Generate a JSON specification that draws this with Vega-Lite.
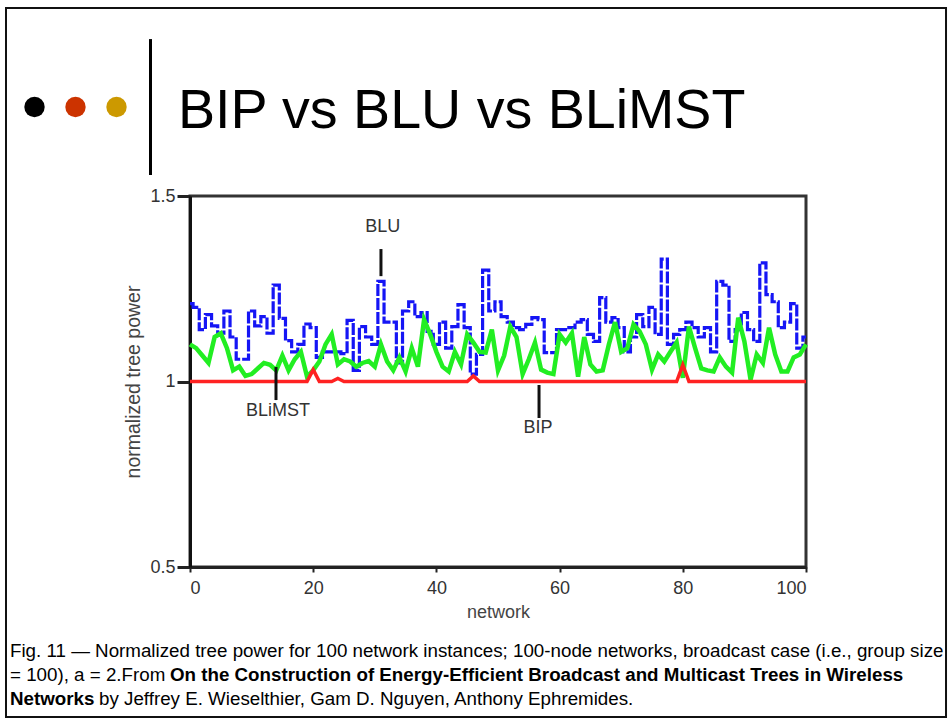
{
"$schema": "https://vega.github.io/schema/vega-lite/v6.json",
"width": 616, "height": 371,
"autosize": {"type": "none"},
"padding": {"left": 190, "top": 196, "right": 146, "bottom": 155},
"background": "white",
"config": {
 "font": "Liberation Sans",
 "view": {"stroke": "#333", "strokeWidth": 3},
 "axisX": {"domainColor": "#222", "domainWidth": 3, "tickColor": "#222", "tickWidth": 2, "tickSize": 5, "labelFontSize": 18, "labelColor": "#333", "labelPadding": 7, "titleFontSize": 18, "titleFontWeight": "normal", "titleColor": "#444", "titlePadding": 6, "grid": false, "labelFont": "Liberation Sans", "titleFont": "Liberation Sans"},
 "axisY": {"domainColor": "#111", "domainWidth": 3, "tickColor": "#222", "tickWidth": 3, "tickSize": 13, "labelFontSize": 18, "labelColor": "#333", "labelPadding": 2, "titleFontSize": 19.5, "titleFontWeight": "normal", "titleColor": "#444", "titlePadding": 6, "grid": false, "labelFont": "Liberation Sans", "titleFont": "Liberation Sans"}
},
"datasets": {
 "series": [
  {"n":0,"BLU":1.21,"BLiMST":1.10,"BIP":1},{"n":1,"BLU":1.20,"BLiMST":1.09,"BIP":1},{"n":2,"BLU":1.14,"BLiMST":1.07,"BIP":1},{"n":3,"BLU":1.18,"BLiMST":1.05,"BIP":1},{"n":4,"BLU":1.15,"BLiMST":1.12,"BIP":1},
  {"n":5,"BLU":1.13,"BLiMST":1.13,"BIP":1},{"n":6,"BLU":1.19,"BLiMST":1.09,"BIP":1},{"n":7,"BLU":1.12,"BLiMST":1.03,"BIP":1},{"n":8,"BLU":1.06,"BLiMST":1.04,"BIP":1},{"n":9,"BLU":1.06,"BLiMST":1.015,"BIP":1},
  {"n":10,"BLU":1.19,"BLiMST":1.02,"BIP":1},{"n":11,"BLU":1.15,"BLiMST":1.035,"BIP":1},{"n":12,"BLU":1.175,"BLiMST":1.05,"BIP":1},{"n":13,"BLU":1.13,"BLiMST":1.045,"BIP":1},{"n":14,"BLU":1.26,"BLiMST":1.03,"BIP":1},
  {"n":15,"BLU":1.17,"BLiMST":1.07,"BIP":1},{"n":16,"BLU":1.11,"BLiMST":1.03,"BIP":1},{"n":17,"BLU":1.08,"BLiMST":1.06,"BIP":1},{"n":18,"BLU":1.10,"BLiMST":1.08,"BIP":1},{"n":19,"BLU":1.155,"BLiMST":1.013,"BIP":1},
  {"n":20,"BLU":1.145,"BLiMST":1.03,"BIP":1.032},{"n":21,"BLU":1.065,"BLiMST":1.054,"BIP":1},{"n":22,"BLU":1.08,"BLiMST":1.10,"BIP":1},{"n":23,"BLU":1.08,"BLiMST":1.127,"BIP":1},{"n":24,"BLU":1.08,"BLiMST":1.046,"BIP":1.008},
  {"n":25,"BLU":1.075,"BLiMST":1.06,"BIP":1},{"n":26,"BLU":1.165,"BLiMST":1.054,"BIP":1},{"n":27,"BLU":1.03,"BLiMST":1.04,"BIP":1},{"n":28,"BLU":1.148,"BLiMST":1.05,"BIP":1},{"n":29,"BLU":1.12,"BLiMST":1.055,"BIP":1},
  {"n":30,"BLU":1.10,"BLiMST":1.04,"BIP":1},{"n":31,"BLU":1.27,"BLiMST":1.10,"BIP":1},{"n":32,"BLU":1.16,"BLiMST":1.054,"BIP":1},{"n":33,"BLU":1.16,"BLiMST":1.03,"BIP":1},{"n":34,"BLU":1.05,"BLiMST":1.065,"BIP":1},
  {"n":35,"BLU":1.19,"BLiMST":1.027,"BIP":1},{"n":36,"BLU":1.215,"BLiMST":1.09,"BIP":1},{"n":37,"BLU":1.175,"BLiMST":1.04,"BIP":1},{"n":38,"BLU":1.186,"BLiMST":1.167,"BIP":1},{"n":39,"BLU":1.135,"BLiMST":1.127,"BIP":1},
  {"n":40,"BLU":1.10,"BLiMST":1.08,"BIP":1},{"n":41,"BLU":1.16,"BLiMST":1.04,"BIP":1},{"n":42,"BLU":1.09,"BLiMST":1.027,"BIP":1},{"n":43,"BLU":1.148,"BLiMST":1.08,"BIP":1},{"n":44,"BLU":1.207,"BLiMST":1.046,"BIP":1},
  {"n":45,"BLU":1.145,"BLiMST":1.127,"BIP":1},{"n":46,"BLU":1.02,"BLiMST":1.105,"BIP":1.015},{"n":47,"BLU":1.073,"BLiMST":1.08,"BIP":1},{"n":48,"BLU":1.30,"BLiMST":1.078,"BIP":1},{"n":49,"BLU":1.19,"BLiMST":1.14,"BIP":1},
  {"n":50,"BLU":1.215,"BLiMST":1.03,"BIP":1},{"n":51,"BLU":1.175,"BLiMST":1.07,"BIP":1},{"n":52,"BLU":1.16,"BLiMST":1.148,"BIP":1},{"n":53,"BLU":1.145,"BLiMST":1.12,"BIP":1},{"n":54,"BLU":1.14,"BLiMST":1.02,"BIP":1},
  {"n":55,"BLU":1.154,"BLiMST":1.06,"BIP":1},{"n":56,"BLU":1.172,"BLiMST":1.105,"BIP":1},{"n":57,"BLU":1.167,"BLiMST":1.032,"BIP":1},{"n":58,"BLU":1.078,"BLiMST":1.024,"BIP":1},{"n":59,"BLU":1.078,"BLiMST":1.02,"BIP":1},
  {"n":60,"BLU":1.14,"BLiMST":1.127,"BIP":1},{"n":61,"BLU":1.14,"BLiMST":1.105,"BIP":1},{"n":62,"BLU":1.145,"BLiMST":1.13,"BIP":1},{"n":63,"BLU":1.16,"BLiMST":1.013,"BIP":1},{"n":64,"BLU":1.167,"BLiMST":1.12,"BIP":1},
  {"n":65,"BLU":1.127,"BLiMST":1.046,"BIP":1},{"n":66,"BLU":1.108,"BLiMST":1.027,"BIP":1},{"n":67,"BLU":1.226,"BLiMST":1.03,"BIP":1},{"n":68,"BLU":1.16,"BLiMST":1.10,"BIP":1},{"n":69,"BLU":1.172,"BLiMST":1.16,"BIP":1},
  {"n":70,"BLU":1.145,"BLiMST":1.08,"BIP":1},{"n":71,"BLU":1.08,"BLiMST":1.09,"BIP":1},{"n":72,"BLU":1.12,"BLiMST":1.154,"BIP":1},{"n":73,"BLU":1.18,"BLiMST":1.135,"BIP":1},{"n":74,"BLU":1.148,"BLiMST":1.10,"BIP":1},
  {"n":75,"BLU":1.2,"BLiMST":1.032,"BIP":1},{"n":76,"BLU":1.127,"BLiMST":1.073,"BIP":1},{"n":77,"BLU":1.33,"BLiMST":1.054,"BIP":1},{"n":78,"BLU":1.10,"BLiMST":1.08,"BIP":1},{"n":79,"BLU":1.127,"BLiMST":1.105,"BIP":1},
  {"n":80,"BLU":1.14,"BLiMST":1.01,"BIP":1.045},{"n":81,"BLU":1.16,"BLiMST":1.148,"BIP":1},{"n":82,"BLU":1.145,"BLiMST":1.09,"BIP":1},{"n":83,"BLU":1.12,"BLiMST":1.035,"BIP":1},{"n":84,"BLU":1.145,"BLiMST":1.03,"BIP":1},
  {"n":85,"BLU":1.08,"BLiMST":1.027,"BIP":1},{"n":86,"BLU":1.27,"BLiMST":1.065,"BIP":1},{"n":87,"BLU":1.26,"BLiMST":1.04,"BIP":1},{"n":88,"BLU":1.108,"BLiMST":1.024,"BIP":1},{"n":89,"BLU":1.14,"BLiMST":1.172,"BIP":1},
  {"n":90,"BLU":1.186,"BLiMST":1.108,"BIP":1},{"n":91,"BLU":1.14,"BLiMST":1.005,"BIP":1},{"n":92,"BLU":1.108,"BLiMST":1.073,"BIP":1},{"n":93,"BLU":1.32,"BLiMST":1.05,"BIP":1},{"n":94,"BLU":1.234,"BLiMST":1.145,"BIP":1},
  {"n":95,"BLU":1.215,"BLiMST":1.073,"BIP":1},{"n":96,"BLU":1.145,"BLiMST":1.027,"BIP":1},{"n":97,"BLU":1.16,"BLiMST":1.027,"BIP":1},{"n":98,"BLU":1.21,"BLiMST":1.065,"BIP":1},{"n":99,"BLU":1.09,"BLiMST":1.073,"BIP":1},
  {"n":100,"BLU":1.12,"BLiMST":1.10,"BIP":1}
 ],
 "labels": [
  {"label": "BLU", "x": 31.3, "y": 1.4164},
  {"label": "BLiMST", "x": 14.3, "y": 0.9205},
  {"label": "BIP", "x": 56.5, "y": 0.8747}
 ],
 "leaders": [
  {"label": "BLU", "x": 31.0, "y1": 1.357, "y2": 1.284},
  {"label": "BLiMST", "x": 13.96, "y1": 1.039, "y2": 0.950},
  {"label": "BIP", "x": 56.66, "y1": 0.9906, "y2": 0.9016}
 ]
},
"layer": [
 {
  "data": {"name": "series"},
  "mark": {"type": "line", "color": "#1515f5", "strokeWidth": 3.2, "interpolate": "step", "strokeDash": [12, 2]},
  "encoding": {
   "x": {"field": "n", "type": "quantitative", "title": "network", "scale": {"domain": [0, 100], "nice": false, "zero": false}, "axis": {"values": [0, 20, 40, 60, 80, 100]}},
   "y": {"field": "BLU", "type": "quantitative", "title": "normalized tree power", "scale": {"domain": [0.5, 1.5], "nice": false, "zero": false}, "axis": {"values": [0.5, 1, 1.5], "format": "~g"}}
  }
 },
 {
  "data": {"name": "series"},
  "mark": {"type": "line", "color": "#22ee22", "strokeWidth": 4.5},
  "encoding": {
   "x": {"field": "n", "type": "quantitative", "title": "network"},
   "y": {"field": "BLiMST", "type": "quantitative", "title": "normalized tree power"}
  }
 },
 {
  "data": {"name": "series"},
  "mark": {"type": "line", "color": "#ff2222", "strokeWidth": 3.5},
  "encoding": {
   "x": {"field": "n", "type": "quantitative", "title": "network"},
   "y": {"field": "BIP", "type": "quantitative", "title": "normalized tree power"}
  }
 },
 {
  "data": {"name": "leaders"},
  "mark": {"type": "rule", "color": "#111", "strokeWidth": 3},
  "encoding": {
   "x": {"field": "x", "type": "quantitative", "title": "network"},
   "y": {"field": "y1", "type": "quantitative", "title": "normalized tree power"},
   "y2": {"field": "y2"}
  }
 },
 {
  "data": {"name": "labels"},
  "mark": {"type": "text", "fontSize": 18, "color": "#333", "align": "center", "baseline": "middle"},
  "encoding": {
   "x": {"field": "x", "type": "quantitative", "title": "network"},
   "y": {"field": "y", "type": "quantitative", "title": "normalized tree power"},
   "text": {"field": "label"}
  }
 },
 {
  "data": {"values": [{}]},
  "mark": {"type": "rect", "fill": null, "fillOpacity": 0, "stroke": "#111", "strokeWidth": 2},
  "encoding": {
   "x": {"datum": -29.87, "type": "quantitative", "title": "network"},
   "x2": {"datum": 122.73},
   "y": {"datum": 2.0067, "type": "quantitative", "title": "normalized tree power"},
   "y2": {"datum": 0.0957}
  }
 },
 {
  "data": {"values": [{}]},
  "mark": {"type": "rule", "color": "#000", "strokeWidth": 3},
  "encoding": {
   "x": {"datum": -6.41, "type": "quantitative", "title": "network"},
   "y": {"datum": 1.923, "type": "quantitative", "title": "normalized tree power"},
   "y2": {"datum": 1.5566}
  }
 },
 {
  "data": {"values": [{}]},
  "mark": {"type": "point", "filled": true, "opacity": 1, "size": 415, "color": "#000000"},
  "encoding": {
   "x": {"datum": -25.24, "type": "quantitative", "title": "network"},
   "y": {"datum": 1.7399, "type": "quantitative", "title": "normalized tree power"}
  }
 },
 {
  "data": {"values": [{}]},
  "mark": {"type": "point", "filled": true, "opacity": 1, "size": 415, "color": "#cc3300"},
  "encoding": {
   "x": {"datum": -18.59, "type": "quantitative", "title": "network"},
   "y": {"datum": 1.7399, "type": "quantitative", "title": "normalized tree power"}
  }
 },
 {
  "data": {"values": [{}]},
  "mark": {"type": "point", "filled": true, "opacity": 1, "size": 415, "color": "#cc9900"},
  "encoding": {
   "x": {"datum": -11.93, "type": "quantitative", "title": "network"},
   "y": {"datum": 1.7399, "type": "quantitative", "title": "normalized tree power"}
  }
 },
 {
  "data": {"values": [{}]},
  "mark": {"type": "text", "text": "BIP vs BLU vs BLiMST", "fontSize": 55.6, "font": "Liberation Sans", "color": "#000", "align": "left", "baseline": "alphabetic"},
  "encoding": {
   "x": {"datum": -1.95, "type": "quantitative", "title": "network"},
   "y": {"datum": 1.682, "type": "quantitative", "title": "normalized tree power"}
  }
 },
 {
  "data": {"values": [{}]},
  "mark": {"type": "text", "text": "Fig. 11 \u2014 Normalized tree power for 100 network instances; 100-node networks, broadcast case (i.e., group size", "fontSize": 18.75, "font": "Liberation Sans", "color": "#000", "align": "left", "baseline": "middle"},
  "encoding": {
   "x": {"datum": -29.22, "type": "quantitative", "title": "network"},
   "y": {"datum": 0.2736, "type": "quantitative", "title": "normalized tree power"}
  }
 },
 {
  "data": {"values": [{}]},
  "mark": {"type": "text", "text": "= 100), a = 2.From", "fontSize": 18.75, "font": "Liberation Sans", "color": "#000", "align": "left", "baseline": "middle"},
  "encoding": {
   "x": {"datum": -29.22, "type": "quantitative", "title": "network"},
   "y": {"datum": 0.2089, "type": "quantitative", "title": "normalized tree power"}
  }
 },
 {
  "data": {"values": [{}]},
  "mark": {"type": "text", "text": "On the Construction of Energy-Efficient Broadcast and Multicast Trees in Wireless", "fontSize": 18.75, "fontWeight": "bold", "font": "Liberation Sans", "color": "#000", "align": "left", "baseline": "middle"},
  "encoding": {
   "x": {"datum": -3.25, "type": "quantitative", "title": "network"},
   "y": {"datum": 0.2089, "type": "quantitative", "title": "normalized tree power"}
  }
 },
 {
  "data": {"values": [{}]},
  "mark": {"type": "text", "text": "Networks", "fontSize": 18.75, "fontWeight": "bold", "font": "Liberation Sans", "color": "#000", "align": "left", "baseline": "middle"},
  "encoding": {
   "x": {"datum": -29.22, "type": "quantitative", "title": "network"},
   "y": {"datum": 0.1442, "type": "quantitative", "title": "normalized tree power"}
  }
 },
 {
  "data": {"values": [{}]},
  "mark": {"type": "text", "text": "by Jeffrey E. Wieselthier, Gam D. Nguyen, Anthony Ephremides.", "fontSize": 18.75, "font": "Liberation Sans", "color": "#000", "align": "left", "baseline": "middle"},
  "encoding": {
   "x": {"datum": -14.77, "type": "quantitative", "title": "network"},
   "y": {"datum": 0.1442, "type": "quantitative", "title": "normalized tree power"}
  }
 }
]
}
